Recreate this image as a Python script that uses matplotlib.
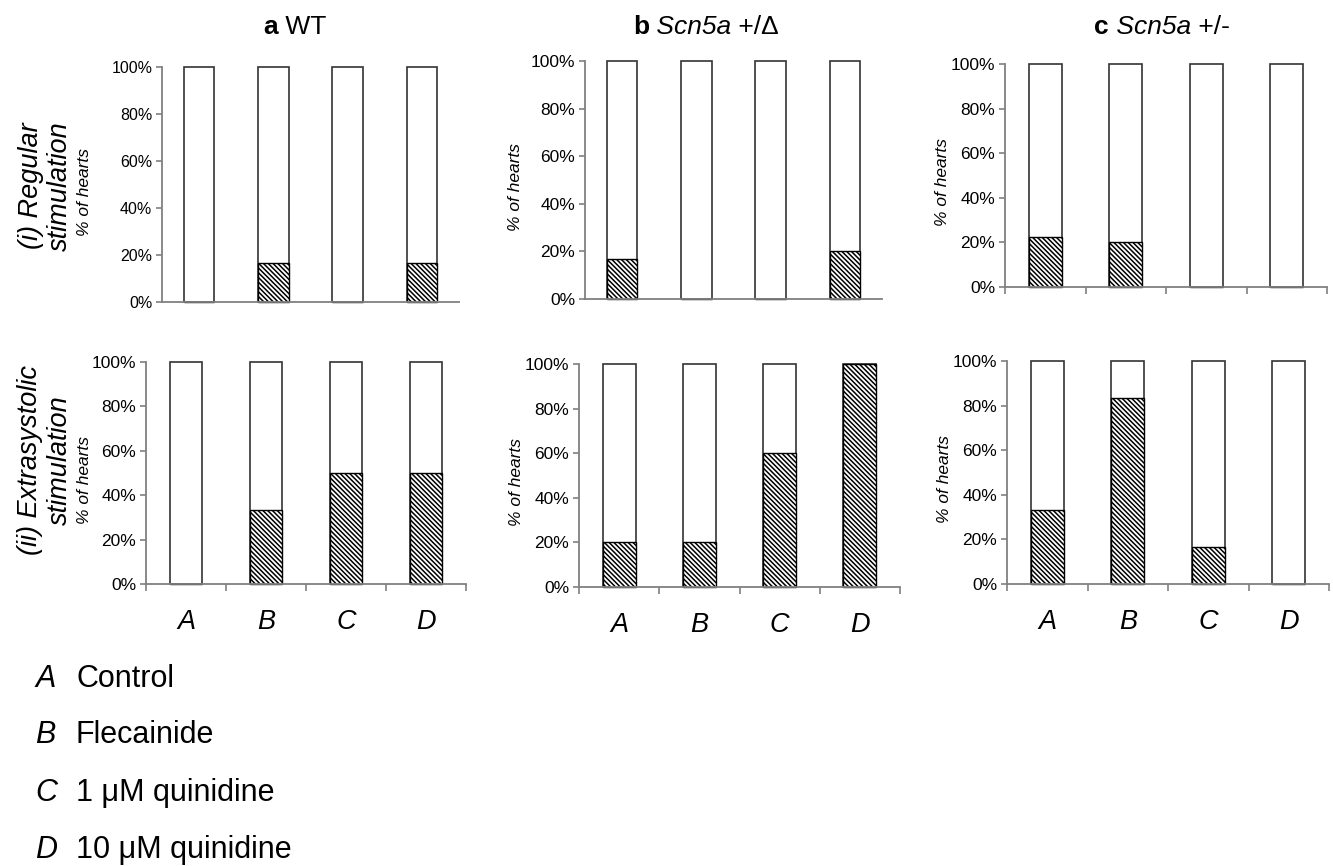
import matplotlib
matplotlib.use("Agg")
from matplotlib import pyplot as plt
from matplotlib import font_manager
from matplotlib.ticker import FuncFormatter
import numpy as np

categories = ["A", "B", "C", "D"]
treatments = ["Control", "Flecainide", "1 μM quinidine", "10 μM quinidine"]
columns = [[("a", "bold"), (" WT", "normal")],
           [("b", "bold"), (" Scn5a", "italic"), (" +/Δ", "normal")],
           [("c", "bold"), (" Scn5a", "italic"), (" +/-", "normal")]]
rows = ["(i) Regular\nstimulation", "(ii) Extrasystolic\nstimulation"]

# % of hearts (hatched part of each bar)
wt_regular = [0, 16.7, 0, 16.7]
delta_regular = [16.7, 0, 0, 20]
het_regular = [22.2, 20, 0, 0]
wt_extra = [0, 33.3, 50, 50]
delta_extra = [20, 20, 60, 100]
het_extra = [33.3, 83.3, 16.7, 0]

data = [[wt_regular, delta_regular, het_regular],
        [wt_extra, delta_extra, het_extra]]

names = {f.name for f in font_manager.fontManager.ttflist}
narrow = "Liberation Sans Narrow" if "Liberation Sans Narrow" in names else "Liberation Sans"

plt.rcParams["font.family"] = ["Liberation Sans", "DejaVu Sans"]
plt.rcParams["hatch.linewidth"] = 1.1

W, H = 1333, 866
fig = plt.figure(figsize=(W / 100, H / 100), dpi=100)

# pixel boxes: left, right, top, bottom
boxes = [[(162, 459, 67, 302), (585, 882, 61, 299), (1005, 1327, 64, 287)],
         [(146, 466, 362, 584), (579, 900, 364, 587), (1007, 1329, 361, 584)]]
label_x = [[-0.235, -0.21, -0.17], [-0.17, -0.17, -0.17]]
grey = "#808080"
x = np.arange(len(categories))

for r in range(2):
    for c in range(3):
        l, rr, t, b = boxes[r][c]
        ax = fig.add_axes([l / W, 1 - b / H, (rr - l) / W, (b - t) / H])
        ax.bar(x, [100] * 4, 0.41, color="white", edgecolor="#333333", linewidth=1.2, clip_on=False)
        ax.bar(x, data[r][c], 0.41, color="white", edgecolor="black", linewidth=1.0,
               hatch="\\" * 7, clip_on=False)
        ax.set_xlim(-0.5, 3.5)
        ax.set_ylim(0, 100)
        ax.set_yticks([0, 20, 40, 60, 80, 100])
        ax.yaxis.set_major_formatter(FuncFormatter(lambda v, p: f"{v:.0f}%"))
        for s in ["top", "right"]:
            ax.spines[s].set_visible(False)
        for s in ["left", "bottom"]:
            ax.spines[s].set_color(grey)
            ax.spines[s].set_linewidth(1.3)
        fs = 11.5 if (r == 0 and c == 0) else 12.5
        ax.tick_params(axis="y", direction="out", length=4, width=1.2, color=grey, pad=3)
        for lab in ax.get_yticklabels():
            lab.set_fontfamily(narrow)
            lab.set_fontsize(fs)
        ax.set_ylabel("% of hearts", fontsize=12.5, fontstyle="italic")
        ax.yaxis.set_label_coords(label_x[r][c], 0.47)
        if r == 1:
            ax.set_xticks(x)
            ax.set_xticklabels(categories, fontsize=19.5, fontstyle="italic")
            ax.tick_params(axis="x", which="major", length=0, pad=18)
        else:
            ax.set_xticks([])
        if r == 1 or c == 2:
            ax.set_xticks(np.arange(-0.5, 4, 1), minor=True)
            ax.tick_params(axis="x", which="minor", direction="out", length=5, width=1.2, color=grey)

# column titles built from pieces (bold letter, italic gene name)
renderer = fig.canvas.get_renderer()
for parts, xc in zip(columns, [295, 706, 1162]):
    pieces = []
    for s, style in parts:
        kw = {"fontweight": "bold"} if style == "bold" else {"fontstyle": style}
        t = fig.text(0, 1 - 27 / H, s, fontsize=19, va="center", ha="left", **kw)
        pieces.append((t, t.get_window_extent(renderer).width))
    x0 = xc - sum(w for _, w in pieces) / 2
    for t, w in pieces:
        t.set_x(x0 / W)
        x0 += w

# row titles
for label, yc in zip(rows, [186, 460]):
    fig.text(45 / W, 1 - yc / H, label, fontsize=19.5, fontstyle="italic", rotation=90,
             ha="center", va="center", linespacing=1.15)

# treatment key
for i, (cat, name) in enumerate(zip(categories, treatments)):
    yb = 1 - [687, 743, 801, 858][i] / H
    fig.text(35 / W, yb, cat, fontsize=22, fontstyle="italic", va="baseline")
    fig.text(76 / W, yb, name, fontsize=22, va="baseline")

plt.savefig("out.png", dpi=100)
